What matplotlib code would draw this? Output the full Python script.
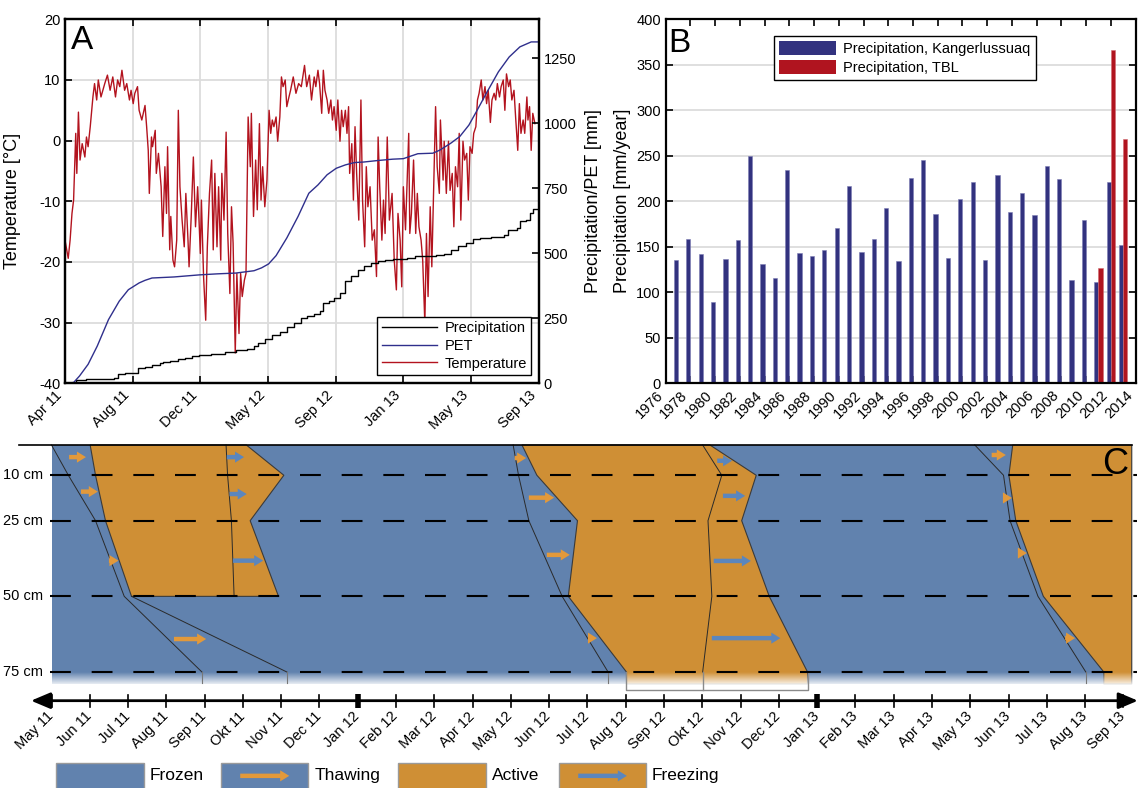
import numpy as np
import matplotlib
matplotlib.use('Agg')
import matplotlib.pyplot as plt
from matplotlib.patches import Polygon, Rectangle, Patch, FancyArrowPatch
from matplotlib.lines import Line2D

plt.rcParams['font.family'] = ['Liberation Sans', 'DejaVu Sans']
plt.rcParams['axes.unicode_minus'] = False

# ---------------- Panel A data (days since 20 Apr 2011) ----------------
a_tick_days = [0, 126, 252, 378, 504, 630, 756, 882]
a_tick_labels = ['Apr 11', 'Aug 11', 'Dec 11', 'May 12', 'Sep 12', 'Jan 13', 'May 13', 'Sep 13']

temp_day = [0, 6, 9.5, 13, 16, 20, 22, 25, 28, 32, 37, 40, 43, 47, 52, 55, 59, 62, 67, 74, 79, 84, 89, 94, 98,
            102, 106, 111, 115, 120, 123, 127, 130, 135, 138, 143, 149, 152, 155, 157, 161, 163, 168, 170, 174,
            179, 182, 186, 189, 191, 195, 197, 201, 204, 208, 211, 214, 218, 222, 225, 229, 231, 235, 239, 243,
            247, 252, 254, 258, 262, 265, 269, 273, 276, 279, 283, 286, 290, 292, 296, 300, 303, 307, 310, 313,
            317, 320, 324, 327, 330, 334, 337, 341, 345, 347, 351, 355, 358, 362, 365, 368, 372, 376, 380, 383,
            386, 389, 393, 396, 400, 403, 406, 410, 413, 417, 420, 425, 430, 435, 440, 446, 450, 455, 459, 464,
            467, 471, 474, 478, 481, 484, 488, 491, 495, 498, 501, 505, 508, 512, 515, 518, 522, 525, 528, 530,
            534, 537, 540, 543, 547, 551, 554, 558, 561, 564, 568, 572, 576, 580, 583, 586, 590, 593, 596, 600,
            604, 609, 613, 617, 620, 624, 627, 630, 634, 637, 640, 642, 645, 649, 653, 656, 659, 663, 666, 670,
            673, 676, 680, 683, 686, 690, 693, 697, 699, 704, 706, 710, 714, 717, 721, 724, 727, 731, 734, 737,
            741, 744, 748, 751, 754, 758, 761, 765, 768, 771, 775, 778, 782, 785, 788, 792, 795, 799, 802, 805,
            809, 812, 816, 819, 822, 826, 829, 832, 836, 839, 843, 846, 849, 853, 856, 860, 862, 865, 868, 871, 875]
temp_c = [-16.4, -19.4, -16.4, -12, -9.8, 1.2, -5.4, 4.7, -3.2, -0.5, -2.7, 0.6, -1, 2.3, 7.2, 9.4, 6.7, 10, 7.2,
          9.4, 10.8, 8.3, 10.5, 7.2, 10, 8.9, 11.6, 8.3, 9.4, 6.7, 8.3, 6.1, 7.8, 8.9, 5, 3.4, 5.8, 2.3, -1.6,
          -8.7, 0.6, -1, 1.7, -5.4, -2.1, -7.6, -15.8, -4.3, -12, -1, -18, -12.5, -19.7, -20.8, -16.4, 5, -7.6,
          -13.1, -17.5, -8.7, -16.4, -20.8, -12.5, -2.7, -14.2, -7.6, -18.6, -9.8, -22.4, -29.6, -17.5, -8.7,
          -3.2, -18, -5.4, -17.5, -7.6, -19.7, -5.4, -13.1, 1.4, -15.3, -25.2, -10.9, -16.9, -35, -21.9, -31.8,
          -21.9, -25.7, -23, -21.9, 3.9, -4.3, 4.5, -12.5, -3.2, -11.4, 2.8, -9.8, -4.3, -10.9, -6.5, 5, 1.2,
          3.4, 2.3, 3.9, -0.1, 3.9, 10.5, 8.9, 10, 5.6, 7.2, 8.3, 10.5, 7.8, 9.4, 8.9, 12.4, 8.9, 10.8, 6.7,
          10.5, 8.9, 11.6, 9.4, 4.5, 11.6, 8.3, 6.7, 4.5, 6.7, 3.4, 5.6, 1.7, 6.7, -0.1, 5, 2.3, 5, 1.2, 5.6,
          -5.4, -0.5, -9.8, 2.3, -5.4, -13.1, 6.7, -9.8, -17.5, -4.3, -10.9, -7.6, -16.4, -14.7, -22.4, 0.6,
          -7.6, -16.4, -9.8, -15.3, 0.6, -13.1, -8.7, -19.7, -24.6, -12, -16.4, -24.1, -7.6, -14.7, -6.5, 1.2,
          -15.3, -12, -3.2, -15.3, -8.7, -14.2, -16.4, -19.7, -30.1, -15.3, -25.7, -10.9, -20.8, -9.8, 5.6,
          -4.3, -8.7, 3.4, -6.5, -0.1, -8.7, -0.1, -8.2, -5.4, -14.2, -4.3, -7.6, 1.2, -13.1, -0.1, -3.2, -2.1,
          -9.8, -1, -2.1, 1.2, 2.3, 6.7, 7.8, 10, 6.7, 8.9, 6.1, 8.3, 3, 6.7, 7.8, 6.7, 9.4, 7.2, 8.9, 10, 5,
          11, 8.9, 10, 6.7, 8.3, 3.9, -1.6, 6.1, 1.2, 3.4, 1.2, 7.2, 3.4, 5.6, -1.6, 4.5, 2.8]

pet_day = [0, 16, 27, 43, 60, 81, 101, 118, 128, 138, 149, 162, 203, 250, 284, 318, 352, 366, 379, 393,
           413, 434, 454, 471, 488, 505, 522, 539, 556, 583, 610, 630, 644, 657, 685, 698, 718, 735, 752, 766,
           786, 807, 827, 847, 868, 882]
pet_mm = [0, 3, 28, 73, 143, 245, 316, 360, 373, 386, 396, 405, 409, 417, 421, 424, 433, 444, 459, 491,
          559, 642, 731, 763, 802, 827, 840, 849, 851, 857, 862, 864, 874, 883, 885, 897, 923, 949, 993, 1045,
          1121, 1198, 1255, 1294, 1313, 1313]

pr_day = [0, 20, 40, 81, 91, 98, 111, 127, 135, 149, 162, 176, 183, 196, 210, 223, 237, 250, 271, 298,
          318, 339, 352, 359, 372, 386, 400, 413, 427, 440, 451, 464, 474, 481, 491, 501, 512, 522, 532, 545,
          556, 569, 583, 596, 610, 624, 637, 651, 671, 691, 705, 718, 732, 746, 759, 773, 793, 817, 824, 841,
          847, 858, 866, 871, 882]
pr_mm = [0, 13, 15, 18, 22, 35, 38, 41, 58, 64, 69, 77, 82, 84, 92, 98, 105, 109, 114, 120,
         127, 133, 143, 156, 169, 187, 197, 217, 233, 252, 258, 265, 277, 309, 316, 329, 348, 393, 412, 437,
         450, 463, 470, 476, 477, 478, 483, 488, 491, 494, 499, 511, 527, 540, 555, 559, 563, 570, 588, 596,
         623, 629, 655, 671, 671]

# ---------------- Panel B data ----------------
kang_years = list(range(1977, 2014))
kang_precip = [136, 159, 142, 89, 137, 158, 250, 131, 116, 234, 143, 140, 147, 171, 217, 144, 159, 193, 134,
               226, 245, 186, 138, 202, 221, 135, 229, 188, 209, 185, 239, 224, 114, 179, 111, 221, 152]
tbl_years = [2011, 2012, 2013]
tbl_precip = [127, 366, 269]

# ---------------- Panel C data (months since May 2011, depth in cm) ----------------
c_month_labels = ['May 11', 'Jun 11', 'Jul 11', 'Aug 11', 'Sep 11', 'Okt 11', 'Nov 11', 'Dec 11',
                  'Jan 12', 'Feb 12', 'Mar 12', 'Apr 12', 'May 12', 'Jun 12', 'Jul 12', 'Aug 12',
                  'Sep 12', 'Okt 12', 'Nov 12', 'Dec 12', 'Jan 13', 'Feb 13', 'Mar 13', 'Apr 13',
                  'May 13', 'Jun 13', 'Jul 13', 'Aug 13', 'Sep 13']
c_depths = [0, 10, 25, 50, 75]
c_depth_labels = ['10 cm', '25 cm', '50 cm', '75 cm']
c_end = 28.22
# season 1
thaw1 = [0.0, 0.44, 1.15, 1.90, 3.93]
thaw1_deep = [2.09, 6.15]
act1_left = [1.01, 1.15, 1.41, 2.09]
act1_right = [5.09, 6.07, 5.19, 5.93]
freeze1 = [4.56, 4.60, 4.70, 4.77]
# season 2
thaw2 = [12.06, 12.20, 12.47, 13.34, 14.54]
act2_left = [12.29, 12.68, 13.74, 13.50, 15.02]
freeze2 = [17.01, 17.51, 17.15, 17.25, 17.01]
act2_right = [17.20, 18.41, 18.03, 18.75, 19.75]
# season 3
thaw3 = [24.12, 24.87, 25.04, 25.77, 27.02]
act3_left = [25.11, 25.01, 25.19, 25.91, 27.49]
# arrows: (start month, end month, depth)
thaw_arrows = [(0.46, 0.90, 4.0), (0.77, 1.21, 15.4), (1.50, 1.75, 38.2), (3.20, 4.04, 64.1),
               (12.10, 12.40, 4.3), (12.47, 13.13, 17.4), (12.94, 13.54, 36.3), (14.02, 14.25, 63.8),
               (24.56, 24.93, 3.3), (24.88, 25.09, 17.5), (25.26, 25.48, 35.7), (26.48, 26.74, 63.8)]
freeze_arrows = [(4.58, 5.03, 4.0), (4.65, 5.10, 16.2), (4.74, 5.53, 38.2),
                 (17.39, 17.78, 5.2), (17.54, 18.12, 16.8), (17.30, 18.27, 38.3), (17.25, 19.04, 63.8)]
legend_names = ['Frozen', 'Thawing', 'Active', 'Freezing']

# ---------------- colours ----------------
RED = '#B3131E'
NAVY = '#2F2F8C'
BAR_BLUE = '#32327F'
BAR_RED = '#B0141F'
C_BLUE = '#6182AE'
C_ORANGE = '#CF8F35'
ARR_ORANGE = '#E3993A'
ARR_BLUE = '#5B86BD'
GRID = '#DCDCDC'

W, H = 1142, 788
fig = plt.figure(figsize=(W / 100, H / 100), dpi=100)

# ================= Panel A =================
axA = fig.add_axes([65 / W, (H - 383.3) / H, 473.7 / W, 364 / H])
axA.set_xlim(0, 882)
axA.set_ylim(-40, 20)
axA.set_axisbelow(True)
axA.grid(True, color=GRID, lw=1.3)
l_temp, = axA.plot(temp_day, temp_c, color=RED, lw=1.0)
axA.set_xticks(a_tick_days)
axA.set_xticklabels(a_tick_labels, rotation=45, ha='right')
axA.set_yticks(np.arange(-40, 21, 10))
axA.tick_params(direction='in', length=5, width=1.2, top=True, labelsize=10.5)
axA.set_ylabel('Temperature [°C]', fontsize=13)
axA.yaxis.set_label_coords(-0.092, 0.5)
for s in axA.spines.values():
    s.set_linewidth(1.6)
axA.text(0.012, 0.985, 'A', transform=axA.transAxes, fontsize=24, ha='left', va='top')

axA2 = axA.twinx()
axA2.set_ylim(0, 1400)
l_pr, = axA2.plot(pr_day, pr_mm, color='black', lw=1.0, drawstyle='steps-post')
l_pet, = axA2.plot(pet_day, pet_mm, color=NAVY, lw=1.0)
axA2.set_yticks(np.arange(0, 1251, 250))
axA2.tick_params(direction='in', length=5, width=1.2, labelsize=10.5)
axA2.set_ylabel('Precipitation/PET [mm]', fontsize=13, rotation=90)
axA2.yaxis.set_label_coords(1.098, 0.5)
for s in axA2.spines.values():
    s.set_linewidth(1.6)
legA = axA2.legend([l_pr, l_pet, l_temp], ['Precipitation', 'PET', 'Temperature'],
                   loc='lower right', bbox_to_anchor=(0.984, 0.023), borderaxespad=0,
                   fancybox=False, edgecolor='black', framealpha=1, fontsize=10.5,
                   handlelength=3.8, borderpad=0.3, labelspacing=0.25, handletextpad=0.5)
legA.get_frame().set_linewidth(1.0)

# ================= Panel B =================
axB = fig.add_axes([665.7 / W, (H - 383.3) / H, 469.8 / W, 364 / H])
axB.set_axisbelow(True)
axB.grid(True, axis='y', color=GRID, lw=1.3)
barK = axB.bar(np.array(kang_years) - 0.17, kang_precip, width=0.34, color=BAR_BLUE,
               edgecolor='#7d7db5', lw=0.4)
barT = axB.bar(np.array(tbl_years) + 0.17, tbl_precip, width=0.34, color=BAR_RED,
               edgecolor='#d06a70', lw=0.4)
axB.set_xlim(1976, 2014)
axB.set_ylim(0, 400)
axB.set_xticks(np.arange(1976, 2015, 2))
axB.set_xticklabels([str(y) for y in range(1976, 2015, 2)], rotation=45, ha='right')
axB.set_yticks(np.arange(0, 401, 50))
axB.tick_params(direction='in', length=5, width=1.2, top=True, right=True, labelsize=10.5)
axB.set_ylabel('Precipitation [mm/year]', fontsize=13)
axB.yaxis.set_label_coords(-0.073, 0.5)
for s in axB.spines.values():
    s.set_linewidth(1.6)
axB.text(0.006, 0.975, 'B', transform=axB.transAxes, fontsize=24, ha='left', va='top')
legB = axB.legend([Patch(facecolor=BAR_BLUE), Patch(facecolor=BAR_RED)],
                  ['Precipitation, Kangerlussuaq', 'Precipitation, TBL'],
                  loc='upper center', bbox_to_anchor=(0.509, 0.954), borderaxespad=0,
                  fancybox=False, edgecolor='black', framealpha=1, fontsize=10.5,
                  handlelength=3.9, handleheight=1.1, borderpad=0.35, labelspacing=0.25,
                  handletextpad=0.5)
legB.get_frame().set_linewidth(1.0)

# ================= Panel C =================
axC = fig.add_axes([0, 0, 1, 348 / H])
XL = (-51.5 / 38.28, (W - 51.5) / 38.28)
YL = ((H - 445) / 3.027, (440 - 445) / 3.027)
axC.set_xlim(*XL)
axC.set_ylim(*YL)
axC.axis('off')

bottom = 79.0
axC.add_patch(Rectangle((0, 0), c_end, bottom, facecolor=C_BLUE, edgecolor='none', zorder=1))

EDGE = '#3a3a3a'
# season 1 active polygon
p1 = list(zip(act1_left, c_depths[:4])) + list(zip(act1_right[::-1], c_depths[:4][::-1]))
axC.add_patch(Polygon(p1, closed=True, facecolor=C_ORANGE, edgecolor=EDGE, lw=0.8, zorder=2))
# season 2 active polygon
p2 = list(zip(act2_left, c_depths)) + [(act2_left[-1], bottom), (act2_right[-1], bottom)] + \
     list(zip(act2_right[::-1], c_depths[::-1]))
axC.add_patch(Polygon(p2, closed=True, facecolor=C_ORANGE, edgecolor=EDGE, lw=0.8, zorder=2))
# season 3 active polygon
p3 = list(zip(act3_left, c_depths)) + [(act3_left[-1], bottom), (c_end, bottom), (c_end, 0)]
axC.add_patch(Polygon(p3, closed=True, facecolor=C_ORANGE, edgecolor=EDGE, lw=0.8, zorder=2))

# thin front lines
thin = dict(color='#2a2a2a', lw=0.7, zorder=3)
axC.plot(thaw1, c_depths, **thin)
axC.plot(thaw1_deep, [50, 75], **thin)
axC.plot(freeze1, c_depths[:4], **thin)
axC.plot(thaw2, c_depths, **thin)
axC.plot(freeze2, c_depths, **thin)
axC.plot(thaw3, c_depths, **thin)

# fade to white below 75 cm
grad = np.ones((64, 2, 4))
grad[:, :, 3] = np.linspace(0, 1, 64)[:, None]
axC.imshow(grad, extent=(-0.2, c_end + 0.3, 79.6, 75.3), origin='upper', aspect='auto',
           zorder=4, interpolation='bilinear')
axC.set_xlim(*XL)
axC.set_ylim(*YL)

# drop lines and bracket below 75 cm
drop = dict(color='#777777', lw=0.8, zorder=5)
for m in [thaw1[-1], thaw1_deep[-1], thaw2[-1], thaw3[-1]]:
    axC.plot([m, m], [75, 78.6], **drop)
br = 80.94
axC.plot([act2_left[-1], act2_left[-1], act2_right[-1], act2_right[-1]], [75, br, br, 75],
         color='#8a8a8a', lw=1.0, zorder=5)
axC.plot([freeze2[-1], freeze2[-1]], [75, br], color='#8a8a8a', lw=1.0, zorder=5)

# surface line and depth dashed lines
axC.plot([-0.86, c_end], [0, 0], color='black', lw=1.2, zorder=6)
for d in c_depths[1:]:
    axC.plot([-0.04, 28.35], [d, d], color='black', lw=1.5, dashes=(10, 10), zorder=6)
for d, lab in zip(c_depths[1:], c_depth_labels):
    axC.text(-0.22, d, lab, ha='right', va='center', fontsize=10.5)


def arrow(x0, x1, d, color):
    axC.add_patch(FancyArrowPatch((x0, d), (x1, d),
                                  arrowstyle='simple,head_length=0.65,head_width=0.8,tail_width=0.32',
                                  mutation_scale=10, color=color, lw=0, zorder=7,
                                  shrinkA=0, shrinkB=0))


for x0, x1, d in thaw_arrows:
    arrow(x0, x1, d, ARR_ORANGE)
for x0, x1, d in freeze_arrows:
    arrow(x0, x1, d, ARR_BLUE)

axC.text(28.13, 0.8, 'C', ha='right', va='top', fontsize=26, zorder=8)

# time axis
ty = 84.47
axC.annotate('', xy=(28.38, ty), xytext=(-0.535, ty),
             arrowprops=dict(arrowstyle='<|-|>,head_length=0.9,head_width=0.38', lw=2,
                             color='black', shrinkA=0, shrinkB=0, mutation_scale=13))
months = np.arange(len(c_month_labels))
for m, lab in zip(months, c_month_labels):
    if lab.startswith('Jan'):
        axC.plot([m, m], [82.2, 86.8], color='black', lw=4, solid_capstyle='butt')
    else:
        axC.plot([m, m], [82.6, 86.45], color='black', lw=1.2)
    axC.text(m + 0.12, 87.3, lab, rotation=45, ha='right', va='top', fontsize=10.5)

# legend for panel C
leg_patch_x = [(0.105, 2.409), (4.43, 6.71), (9.05, 11.35), (13.26, 15.53)]
leg_face = [C_BLUE, C_BLUE, C_ORANGE, C_ORANGE]
leg_arrow = [None, ARR_ORANGE, None, ARR_BLUE]
for (x0, x1), fc, ac, name in zip(leg_patch_x, leg_face, leg_arrow, legend_names):
    axC.add_patch(Rectangle((x0, 105.0), x1 - x0, 9.0, facecolor=fc, edgecolor='#9a9a9a', lw=1.0,
                            clip_on=False))
    if ac is not None:
        axC.add_patch(FancyArrowPatch((x0 + 0.5, 109.3), (x1 - 0.5, 109.3),
                                      arrowstyle='simple,head_length=0.65,head_width=0.8,tail_width=0.32',
                                      mutation_scale=10, color=ac, lw=0, shrinkA=0, shrinkB=0))
    axC.text(x1 + 0.16, 109.3, name, ha='left', va='center', fontsize=12.5)

fig.savefig('out.png', dpi=100)
